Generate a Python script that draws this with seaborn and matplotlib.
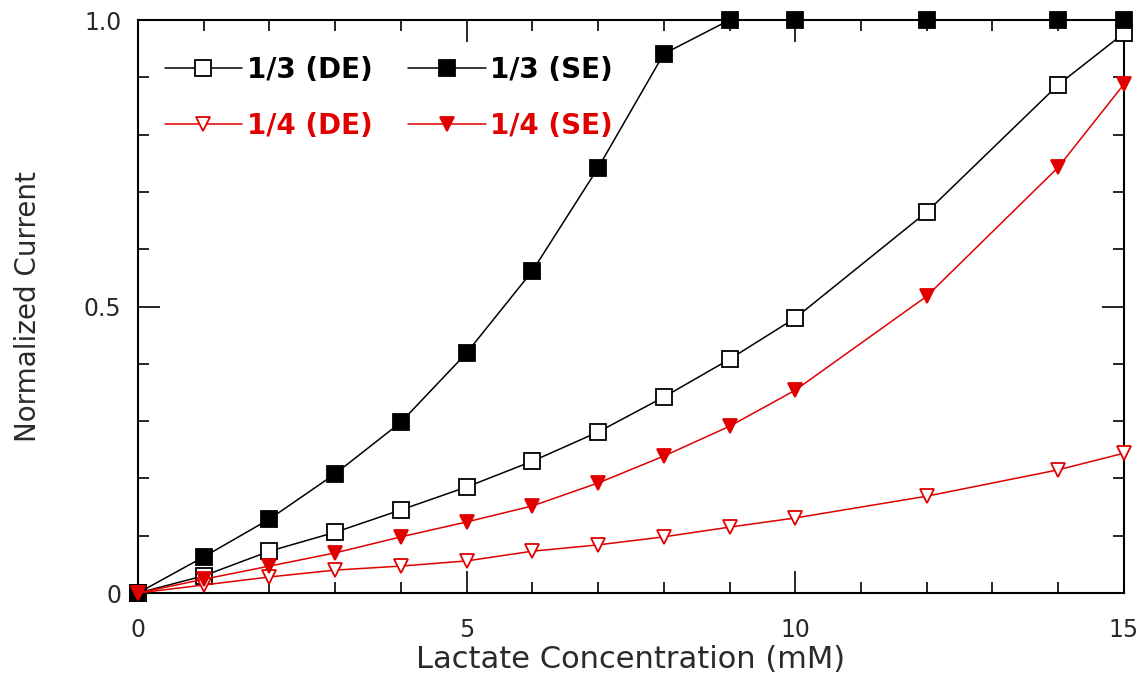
import numpy as np
import pandas as pd
import matplotlib
matplotlib.use("Agg")
import matplotlib.pyplot as plt
import seaborn as sns
from matplotlib.ticker import MultipleLocator

### ---------------- DATA ---------------- ###
conc = [0, 1, 2, 3, 4, 5, 6, 7, 8, 9, 10, 12, 14, 15]

de_13 = [0.0, 0.03, 0.073, 0.106, 0.145, 0.185, 0.230, 0.281, 0.342, 0.408, 0.480, 0.665, 0.887, 0.977]
se_13 = [0.0, 0.063, 0.129, 0.208, 0.298, 0.419, 0.562, 0.742, 0.941, 1.0, 1.0, 1.0, 1.0, 1.0]
de_14 = [0.0, 0.014, 0.028, 0.040, 0.047, 0.056, 0.073, 0.084, 0.098, 0.115, 0.131, 0.169, 0.215, 0.244]
se_14 = [0.0, 0.024, 0.047, 0.070, 0.098, 0.124, 0.152, 0.192, 0.239, 0.291, 0.354, 0.518, 0.743, 0.888]

labels = ["1/3 (DE)", "1/3 (SE)", "1/4 (DE)", "1/4 (SE)"]
RED = "#e00000"

# label -> (values, color, marker, filled, size)
series = {
    "1/3 (DE)": (de_13, "black", "s", False, 11.5),
    "1/3 (SE)": (se_13, "black", "s", True, 11.5),
    "1/4 (DE)": (de_14, RED, "v", False, 10.5),
    "1/4 (SE)": (se_14, RED, "v", True, 10.5),
}

df = pd.concat(
    [pd.DataFrame({"conc": conc, "current": vals, "series": name})
     for name, (vals, *_rest) in series.items()],
    ignore_index=True,
)

### ---------------- PLOT ---------------- ###
sns.set_style("ticks")
plt.rcParams["font.family"] = ["DejaVu Sans"]

fig, ax = plt.subplots(figsize=(11.42, 6.81), dpi=100)
fig.subplots_adjust(left=0.1208, right=0.9842, bottom=0.1292, top=0.9706)

# draw black first so red sits on top at the origin
for name in labels:
    vals, color, marker, filled, ms = series[name]
    sub = df[df["series"] == name]
    sns.lineplot(
        data=sub, x="conc", y="current", ax=ax, label=name,
        color=color, marker=marker, markersize=ms,
        markerfacecolor=color if filled else "white",
        markeredgecolor=color, markeredgewidth=1.3,
        linewidth=1.1, errorbar=None, clip_on=False, zorder=3,
    )

ax.set_xlim(0, 15)
ax.set_ylim(0, 1.0)
ax.xaxis.set_major_locator(MultipleLocator(5))
ax.xaxis.set_minor_locator(MultipleLocator(1))
ax.yaxis.set_minor_locator(MultipleLocator(0.1))
ax.set_yticks([0, 0.5, 1.0])
ax.set_yticklabels(["0", "0.5", "1.0"])

for side in ["top", "right", "bottom", "left"]:
    ax.spines[side].set_visible(True)
    ax.spines[side].set_linewidth(1.5)
    ax.spines[side].set_color("black")

ax.tick_params(which="both", direction="in", top=True, right=True, colors="black", labelcolor="#2a2a2a")
ax.tick_params(which="major", length=16, width=1.2, labelsize=17)
ax.tick_params(which="minor", length=8, width=1.2)
ax.tick_params(axis="x", which="major", pad=18)
ax.tick_params(axis="y", which="major", pad=12)

ax.set_xlabel("Lactate Concentration (mM)", fontsize=22, color="#2a2a2a", labelpad=2)
ax.set_ylabel("Normalized Current", fontsize=20, color="#2a2a2a", labelpad=30)

# legend filled row-wise: (1/3 DE, 1/3 SE) on top, (1/4 DE, 1/4 SE) below
handles, hlabels = ax.get_legend_handles_labels()
lookup = dict(zip(hlabels, handles))
order = ["1/3 (DE)", "1/4 (DE)", "1/3 (SE)", "1/4 (SE)"]
leg = ax.legend(
    [lookup[k] for k in order], order,
    ncol=2, loc="upper left", bbox_to_anchor=(0.027, 0.937),
    frameon=False, borderaxespad=0, borderpad=0,
    handlelength=2.8, handletextpad=0.15, columnspacing=1.3, labelspacing=1.0,
    prop={"weight": "bold", "size": 20}, markerscale=1.0,
)
for text, name in zip(leg.get_texts(), order):
    text.set_color(series[name][1])

fig.savefig("out.png", dpi=100)
